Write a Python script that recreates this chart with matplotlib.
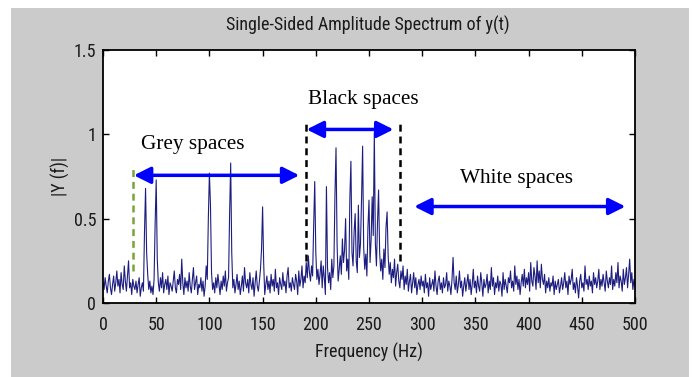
import numpy as np
import matplotlib
matplotlib.use("Agg")
import matplotlib.pyplot as plt
from matplotlib.patches import Rectangle
from matplotlib import font_manager
from matplotlib.font_manager import FontProperties

# ---------------- data ----------------
freq_start, freq_stop = 0, 500
amplitude = [
    0.12, 0.08, 0.15, 0.10, 0.06, 0.13, 0.17, 0.09, 0.05, 0.11,
    0.16, 0.07, 0.12, 0.19, 0.10, 0.14, 0.06, 0.18, 0.11, 0.08,
    0.22, 0.13, 0.07, 0.16, 0.25, 0.09, 0.12, 0.05, 0.14, 0.10,
    0.08, 0.13, 0.06, 0.11, 0.15, 0.04, 0.09, 0.12, 0.07, 0.42,
    0.68, 0.30, 0.17, 0.08, 0.13, 0.06, 0.10, 0.05, 0.14, 0.47,
    0.73, 0.26, 0.12, 0.07, 0.15, 0.09, 0.18, 0.06, 0.11, 0.14,
    0.08, 0.16, 0.05, 0.12, 0.10, 0.07, 0.13, 0.19, 0.09, 0.06,
    0.14, 0.11, 0.17, 0.08, 0.26, 0.12, 0.05, 0.15, 0.09, 0.13,
    0.07, 0.18, 0.10, 0.06, 0.14, 0.21, 0.08, 0.12, 0.16, 0.05,
    0.11, 0.09, 0.15, 0.07, 0.13, 0.04, 0.10, 0.22, 0.14, 0.50,
    0.77, 0.58, 0.18, 0.08, 0.12, 0.06, 0.15, 0.09, 0.17, 0.11,
    0.05, 0.13, 0.08, 0.16, 0.10, 0.19, 0.07, 0.12, 0.15, 0.53,
    0.83, 0.30, 0.09, 0.14, 0.06, 0.11, 0.17, 0.08, 0.13, 0.05,
    0.10, 0.16, 0.07, 0.21, 0.12, 0.09, 0.14, 0.06, 0.18, 0.11,
    0.08, 0.15, 0.04, 0.12, 0.19, 0.10, 0.07, 0.13, 0.20, 0.32,
    0.57, 0.24, 0.05, 0.11, 0.16, 0.08, 0.13, 0.06, 0.17, 0.10,
    0.14, 0.07, 0.20, 0.09, 0.12, 0.05, 0.15, 0.11, 0.08, 0.18,
    0.10, 0.13, 0.06, 0.16, 0.21, 0.09, 0.12, 0.07, 0.15, 0.11,
    0.08, 0.17, 0.13, 0.05, 0.19, 0.10, 0.14, 0.22, 0.09, 0.16,
    0.12, 0.24, 0.15, 0.28, 0.18, 0.13, 0.22, 0.16, 0.46, 0.72,
    0.30, 0.14, 0.20, 0.11, 0.17, 0.25, 0.09, 0.22, 0.15, 0.05,
    0.69, 0.21, 0.12, 0.18, 0.08, 0.26, 0.15, 0.22, 0.64, 0.92,
    0.35, 0.13, 0.20, 0.28, 0.17, 0.38, 0.24, 0.31, 0.50, 0.19,
    0.26, 0.14, 0.62, 0.84, 0.30, 0.22, 0.42, 0.53, 0.25, 0.18,
    0.58, 0.27, 0.35, 0.62, 0.93, 0.33, 0.20, 0.29, 0.16, 0.45,
    0.61, 0.24, 0.38, 0.63, 0.40, 1.01, 0.35, 0.22, 0.48, 0.67,
    0.30, 0.19, 0.26, 0.14, 0.32, 0.21, 0.45, 0.54, 0.28, 0.17,
    0.24, 0.12, 0.20, 0.15, 0.26, 0.10, 0.18, 0.23, 0.13, 0.09,
    0.19, 0.14, 0.22, 0.08, 0.16, 0.11, 0.20, 0.07, 0.13, 0.17,
    0.06, 0.12, 0.18, 0.09, 0.15, 0.05, 0.11, 0.14, 0.08, 0.16,
    0.10, 0.13, 0.06, 0.17, 0.09, 0.12, 0.04, 0.15, 0.08, 0.11,
    0.14, 0.07, 0.19, 0.10, 0.05, 0.13, 0.16, 0.08, 0.12, 0.06,
    0.15, 0.09, 0.11, 0.18, 0.07, 0.13, 0.10, 0.05, 0.14, 0.27,
    0.12, 0.08, 0.16, 0.06, 0.11, 0.19, 0.09, 0.13, 0.04, 0.10,
    0.15, 0.07, 0.12, 0.17, 0.08, 0.14, 0.05, 0.11, 0.20, 0.09,
    0.13, 0.06, 0.16, 0.10, 0.07, 0.18, 0.12, 0.04, 0.14, 0.09,
    0.11, 0.17, 0.06, 0.13, 0.08, 0.21, 0.10, 0.15, 0.05, 0.12,
    0.09, 0.16, 0.07, 0.13, 0.11, 0.04, 0.18, 0.08, 0.14, 0.10,
    0.06, 0.15, 0.12, 0.19, 0.09, 0.13, 0.07, 0.22, 0.11, 0.16,
    0.08, 0.14, 0.05, 0.12, 0.17, 0.10, 0.20, 0.09, 0.15, 0.11,
    0.18, 0.07, 0.24, 0.13, 0.10, 0.21, 0.16, 0.08, 0.25, 0.12,
    0.19, 0.09, 0.23, 0.14, 0.11, 0.17, 0.06, 0.13, 0.09, 0.15,
    0.07, 0.12, 0.10, 0.16, 0.05, 0.13, 0.08, 0.11, 0.14, 0.06,
    0.10, 0.15, 0.08, 0.12, 0.18, 0.09, 0.13, 0.05, 0.16, 0.11,
    0.14, 0.20, 0.08, 0.12, 0.06, 0.15, 0.10, 0.03, 0.13, 0.17,
    0.09, 0.12, 0.07, 0.22, 0.11, 0.14, 0.08, 0.16, 0.10, 0.13,
    0.06, 0.18, 0.11, 0.15, 0.09, 0.13, 0.20, 0.08, 0.14, 0.10,
    0.17, 0.12, 0.07, 0.19, 0.13, 0.09, 0.15, 0.11, 0.22, 0.08,
    0.14, 0.10, 0.18, 0.12, 0.24, 0.09, 0.16, 0.13, 0.07, 0.20,
    0.11, 0.15, 0.21, 0.09, 0.17, 0.26, 0.12, 0.18, 0.08, 0.14,
    0.10,
]
frequency = np.arange(freq_start, freq_stop + 1)

x_ticks = [0, 50, 100, 150, 200, 250, 300, 350, 400, 450, 500]
y_ticks = [0, 0.5, 1, 1.5]
y_tick_labels = ["0", "0.5", "1", "1.5"]

# region markers (Hz) and annotations
grey_edge_freq = [28]
black_edge_freqs = [190.5, 279]
region_labels = ["Grey spaces", "Black spaces", "White spaces"]
label_freqs = [84.5, 244.5, 389]
label_levels = [0.94, 1.205, 0.739]
arrow_starts = [29, 191.4, 292.5]
arrow_ends = [184.5, 273, 491]
arrow_levels = [0.757, 1.029, 0.572]

# ---------------- fonts ----------------
def find_condensed():
    prefs = []
    for f in font_manager.fontManager.ttflist:
        fn = f.fname.lower()
        if f.style != "normal":
            continue
        if "bold" in fn or "italic" in fn or "oblique" in fn or "light" in fn:
            continue
        if "liberationsansnarrow-regular" in fn or ("narrow" in fn and "liberation" in fn):
            prefs.append((0, f.fname, 13.5))
        elif "robotocondensed-regular" in fn or ("roboto" in fn and "condensed" in fn):
            prefs.append((1, f.fname, 13.0))
        elif "dejavusanscondensed.ttf" in fn:
            prefs.append((2, f.fname, 12.0))
        elif "condensed" in fn and "sans" in fn:
            prefs.append((3, f.fname, 12.5))
    if prefs:
        prefs.sort()
        return prefs[0][1], prefs[0][2]
    return None, 12.0

cond_file, base_size = find_condensed()
if cond_file:
    def sans(size):
        return FontProperties(fname=cond_file, size=size)
else:
    def sans(size):
        return FontProperties(family="Liberation Sans", size=size)

serif = "Liberation Serif"
plt.rcParams["lines.scale_dashes"] = False

W, H = 694, 377
fig = plt.figure(figsize=(W / 100, H / 100), dpi=100)
fig.patch.set_facecolor("white")
fig.patches.append(Rectangle((11 / W, 0), 678 / W, 369 / H,
                             transform=fig.transFigure, facecolor="#cbcbcb",
                             edgecolor="none", zorder=-10))

ax = fig.add_axes([103 / W, (H - 303) / H, 532 / W, 253 / H])
ax.set_facecolor("white")

ax.plot(frequency, amplitude, color="#1d1d80", lw=0.8, zorder=2)

ax.vlines(grey_edge_freq, 0.19, 0.81, colors="#7aa33a", lw=1.8,
          linestyles=(0, (5, 3.5)), zorder=3)
ax.vlines(black_edge_freqs, 0.25, 1.08, colors="black", lw=1.8,
          linestyles=(0, (5, 3.5)), zorder=3)

for s, e, lvl in zip(arrow_starts, arrow_ends, arrow_levels):
    ax.annotate("", xy=(e, lvl), xytext=(s, lvl),
                arrowprops=dict(arrowstyle="<|-|>,head_length=0.4,head_width=0.2",
                                color="#0000ff", lw=2.5, mutation_scale=25,
                                shrinkA=0, shrinkB=0), zorder=4)

for txt, fx, fy in zip(region_labels, label_freqs, label_levels):
    ax.text(fx, fy, txt, ha="center", va="center", family=serif,
            fontsize=15.3, color="black", zorder=5)

ax.set_xlim(freq_start, freq_stop)
ax.set_ylim(0, 1.5)
ax.set_xticks(x_ticks)
ax.set_xticklabels([str(t) for t in x_ticks])
ax.set_yticks(y_ticks)
ax.set_yticklabels(y_tick_labels)
ax.tick_params(direction="in", length=4, width=1, top=True, right=True,
               colors="black")
ax.tick_params(axis="x", pad=9)
ax.tick_params(axis="y", pad=5)
for lab in ax.get_xticklabels() + ax.get_yticklabels():
    lab.set_fontproperties(sans(base_size))
    lab.set_color("#1a1a1a")
for sp in ax.spines.values():
    sp.set_linewidth(1.3)

ax.set_xlabel("Frequency (Hz)", fontproperties=sans(base_size), color="#1a1a1a")
ax.xaxis.label.set_va("center")
ax.xaxis.set_label_coords(0.5, -49 / 253)
ax.set_ylabel("|Y (f)|", fontproperties=sans(base_size), color="#1a1a1a")
ax.yaxis.label.set_va("center")
ax.yaxis.set_label_coords(-43 / 532, 0.5)

fig.text(367.5 / W, 1 - 31 / H, "Single-Sided Amplitude Spectrum of y(t)",
         ha="center", va="baseline", fontproperties=sans(base_size), color="#1a1a1a")

fig.savefig("out.png", dpi=100, facecolor="white")
